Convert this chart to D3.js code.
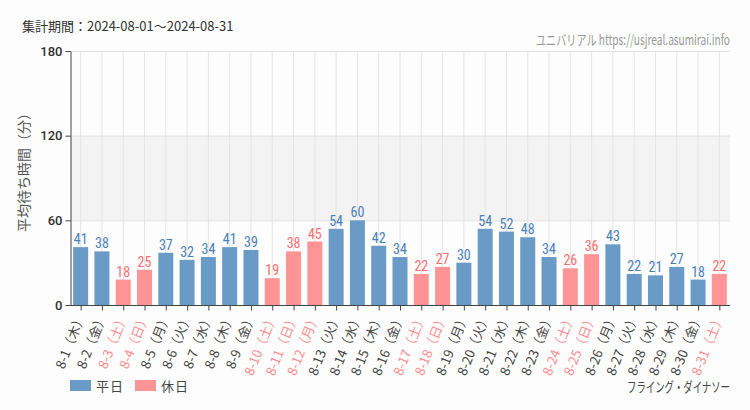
<!DOCTYPE html>
<html><head><meta charset="utf-8">
<script src="https://cdn.jsdelivr.net/npm/d3@7"></script>
<style>
body{margin:0;background:#fcfdfc;}
svg{display:block;}
</style></head>
<body><svg id="c" width="750" height="410"></svg>
<script>
const days = ["8-1","8-2","8-3","8-4","8-5","8-6","8-7","8-8","8-9","8-10","8-11","8-12","8-13","8-14","8-15","8-16","8-17","8-18","8-19","8-20","8-21","8-22","8-23","8-24","8-25","8-26","8-27","8-28","8-29","8-30","8-31"];
const weekdays = ["木","金","土","日","月","火","水","木","金","土","日","月","火","水","木","金","土","日","月","火","水","木","金","土","日","月","火","水","木","金","土"];
const waits = [41,38,18,25,37,32,34,41,39,19,38,45,54,60,42,34,22,27,30,54,52,48,34,26,36,43,22,21,27,18,22];
const holidays = [0,0,1,1,0,0,0,0,0,1,1,1,0,0,0,0,1,1,0,0,0,0,0,1,1,0,0,0,0,0,1];
const yTicks = [0,60,120,180];
const legendLabels = ["平日","休日"];

const barBlue = "#6a9ac6", barPink = "#ff9496";
const txtBlue = "#4a80b8", txtPink = "#f76e72";
const cond = "'Liberation Sans Narrow','Roboto Condensed','Arial Narrow',sans-serif";
const jp = "'Noto Sans CJK JP','Noto Sans',sans-serif";

const svg = d3.select("#c");
const L=70, R=730, T=51, B=305;
const xc = d3.scalePoint().domain(days).range([L,R]).padding(0.5);
const y = d3.scaleLinear().domain([0,180]).range([B,T]);

// band 60-120
svg.append("rect").attr("x",L).attr("width",R-L).attr("y",y(120)).attr("height",y(60)-y(120)).attr("fill","#f3f3f3");
// vertical gridlines
svg.selectAll("line.vg").data(days).enter().append("line")
  .attr("x1",d=>xc(d)).attr("x2",d=>xc(d)).attr("y1",T).attr("y2",B).attr("stroke","#e4e4e4");
// horizontal gridlines
svg.selectAll("line.hg").data(yTicks.slice(1)).enter().append("line")
  .attr("x1",L).attr("x2",R).attr("y1",d=>y(d)+0.5).attr("y2",d=>y(d)+0.5).attr("stroke","#e2e2e2");

// bars
svg.selectAll("rect.bar").data(waits).enter().append("rect")
  .attr("x",(d,i)=>xc(days[i])-7.5).attr("width",15)
  .attr("y",d=>y(d)).attr("height",d=>B-y(d))
  .attr("fill",(d,i)=>holidays[i]?barPink:barBlue);
// value labels
svg.selectAll("text.val").data(waits).enter().append("text")
  .attr("x",(d,i)=>xc(days[i])).attr("y",d=>y(d)-3)
  .attr("text-anchor","middle").attr("font-family",cond).attr("font-size",14)
  .attr("fill",(d,i)=>holidays[i]?txtPink:txtBlue).text(d=>d);

// y axis
const ya = svg.append("g").attr("transform",`translate(${L+0.5},0)`)
  .call(d3.axisLeft(y).tickValues(yTicks).tickSize(5).tickSizeOuter(0));
ya.select(".domain").attr("stroke","#444");
ya.selectAll(".tick line").attr("stroke","#444");
ya.selectAll("text").attr("font-family","'Roboto','Noto Sans',sans-serif").attr("font-size",13).attr("fill","#333").attr("font-weight","500");

// x axis
const xa = svg.append("g").attr("transform",`translate(0,${B+0.5})`)
  .call(d3.axisBottom(xc).tickSize(5).tickSizeOuter(0).tickFormat(()=>""));
xa.select(".domain").attr("stroke","#444").attr("d",`M${L},0H${R}`);
xa.selectAll(".tick line").attr("stroke","#444");
// x labels
svg.selectAll("text.xl").data(days).enter().append("text")
  .attr("transform",(d)=>`translate(${xc(d)+5},${B+11}) rotate(-68)`)
  .attr("text-anchor","end").attr("font-family",jp).attr("font-size",13)
  .attr("fill",(d,i)=>holidays[i]?"#ff8c8f":"#444")
  .text((d,i)=>`${d}（${weekdays[i]}）`);

// y title
svg.append("text").attr("transform","translate(29,169) rotate(-90)")
  .attr("text-anchor","middle").attr("font-family",jp).attr("font-size",14).attr("fill","#555")
  .text("平均待ち時間（分）");

// header
svg.append("text").attr("x",22).attr("y",31).attr("font-family",jp).attr("font-size",13).attr("fill","#333")
  .text("集計期間：2024-08-01～2024-08-31");
svg.append("text").attr("x",536).attr("y",45).attr("font-family",jp).attr("font-size",14).attr("fill","#999")
  .attr("textLength",194).attr("lengthAdjust","spacingAndGlyphs")
  .text("ユニバリアル  https://usjreal.asumirai.info");
svg.append("text").attr("x",627).attr("y",392).attr("font-family",jp).attr("font-size",14).attr("fill","#444")
  .attr("textLength",103).attr("lengthAdjust","spacingAndGlyphs")
  .text("フライング・ダイナソー");

// legend
const lg = svg.selectAll("g.lg").data(legendLabels).enter().append("g")
  .attr("transform",(d,i)=>`translate(${70+i*65},380)`);
lg.append("rect").attr("width",21).attr("height",11).attr("fill",(d,i)=>i?barPink:barBlue);
lg.append("text").attr("x",26).attr("y",11).attr("font-family",jp).attr("font-size",13).attr("fill","#444")
  .attr("letter-spacing",1).text(d=>d);
</script></body></html>
